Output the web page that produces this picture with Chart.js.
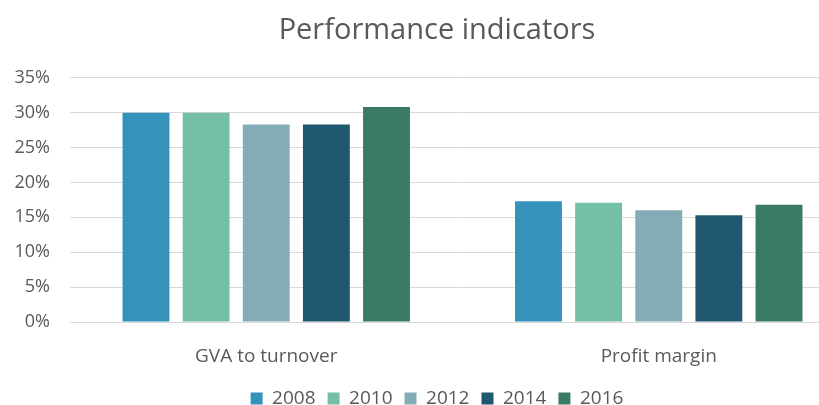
<!DOCTYPE html>
<html>
<head>
<meta charset="utf-8">
<script src="https://cdn.jsdelivr.net/npm/chart.js@4/dist/chart.umd.min.js"></script>
<style>
  html, body { margin: 0; padding: 0; background: #fff; overflow: hidden; }
  #wrap { width: 874px; height: 405px; position: relative; }
</style>
</head>
<body>
<div id="wrap"><canvas id="perfChart"></canvas></div>
<script>
var categories = ["GVA to turnover", "Profit margin"];
var years = ["2008", "2010", "2012", "2014", "2016"];
var s2008 = [30.0, 17.3];
var s2010 = [30.0, 17.1];
var s2012 = [28.3, 16.0];
var s2014 = [28.3, 15.3];
var s2016 = [30.8, 16.8];
var colors = ["#3593BB", "#75BFA5", "#84ACB6", "#20596F", "#3A7B67"];

var seriesValues = [s2008, s2010, s2012, s2014, s2016];
var textColor = "#595959";
var fontFamily = "'Open Sans', sans-serif";

// the reference is cropped: its plot runs past the right edge of the picture
var ctx = document.getElementById("perfChart");
var chart = new Chart(ctx, {
  type: "bar",
  data: {
    labels: categories,
    datasets: years.map(function (y, i) {
      return {
        label: y,
        data: seriesValues[i],
        backgroundColor: colors[i],
        categoryPercentage: 0.766,
        barPercentage: 0.78
      };
    })
  },
  options: {
    responsive: true,
    maintainAspectRatio: false,
    animation: false,
    layout: { padding: { left: 0, right: 0, top: 0, bottom: -13 } },
    plugins: {
      title: {
        display: true,
        text: "Performance indicators",
        color: textColor,
        font: { family: fontFamily, size: 29, weight: "normal" },
        padding: { top: 13, bottom: 30 }
      },
      legend: {
        position: "bottom",
        labels: {
          color: textColor,
          font: { family: fontFamily, size: 19 },
          boxWidth: 12,
          boxHeight: 12,
          padding: 12
        }
      },
      tooltip: { enabled: false }
    },
    scales: {
      x: {
        grid: { display: false },
        border: { color: "#D9D9D9" },
        afterFit: function (scale) { scale.height = 55; },
        ticks: {
          color: textColor,
          font: { family: fontFamily, size: 19 },
          padding: 15
        }
      },
      y: {
        min: 0,
        max: 35,
        grid: { color: "#D9D9D9", drawTicks: false },
        border: { display: false },
        afterFit: function (scale) { scale.width = 70; },
        ticks: {
          stepSize: 5,
          color: textColor,
          font: { family: fontFamily, size: 18 },
          padding: 20,
          callback: function (v) { return v + "%"; }
        }
      },
      // empty right-hand axis, only reserves space
      yRight: {
        position: "right",
        grid: { display: false, drawOnChartArea: false },
        border: { display: false },
        ticks: { display: false },
        afterFit: function (scale) { scale.width = 19; }
      }
    }
  }
});
</script>
</body>
</html>
